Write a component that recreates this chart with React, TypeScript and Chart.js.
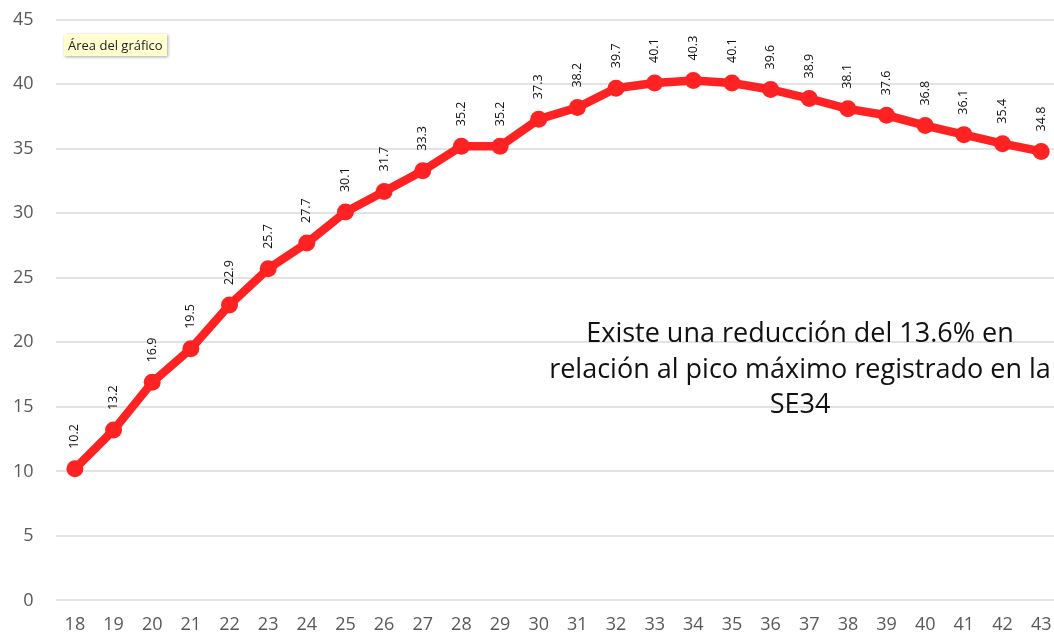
import React, { useEffect, useRef } from "react";
import { Chart, registerables } from "chart.js";

Chart.register(...registerables);

const weeks: string[] = ["18","19","20","21","22","23","24","25","26","27","28","29","30","31","32","33","34","35","36","37","38","39","40","41","42","43"];
const values: number[] = [10.2,13.2,16.9,19.5,22.9,25.7,27.7,30.1,31.7,33.3,35.2,35.2,37.3,38.2,39.7,40.1,40.3,40.1,39.6,38.9,38.1,37.6,36.8,36.1,35.4,34.8];
const annotationLines: string[] = ["Existe una reducción del 13.6% en", "relación al pico máximo registrado en la", "SE34"];
const tooltipText = "Área del gráfico";

const FONT = "'Open Sans', 'Noto Sans', sans-serif";

const dataLabelPlugin = {
  id: "vlabels",
  afterDatasetsDraw(chart: any) {
    const ctx = chart.ctx;
    const meta = chart.getDatasetMeta(0);
    ctx.save();
    ctx.fillStyle = "#111";
    ctx.font = `12.5px ${FONT}`;
    ctx.textAlign = "left";
    ctx.textBaseline = "middle";
    meta.data.forEach((pt: any, i: number) => {
      ctx.save();
      ctx.translate(pt.x, pt.y - 20);
      ctx.rotate(-Math.PI / 2);
      ctx.fillText(values[i].toFixed(1), 0, 0);
      ctx.restore();
    });
    ctx.restore();
  },
};

export default function App() {
  const ref = useRef<HTMLCanvasElement | null>(null);
  useEffect(() => {
    if (!ref.current) return;
    const chart = new Chart(ref.current, {
      type: "line",
      data: {
        labels: weeks,
        datasets: [
          {
            data: values,
            borderColor: "#ff2222",
            backgroundColor: "#ff2222",
            borderWidth: 8.5,
            pointRadius: 8.5,
            pointHoverRadius: 8.5,
            pointBackgroundColor: "#ff2222",
            pointBorderWidth: 0,
            tension: 0,
          },
        ],
      },
      options: {
        responsive: false,
        animation: false,
        layout: { padding: { left: 12, top: 8, right: 0, bottom: 0 } },
        plugins: { legend: { display: false }, tooltip: { enabled: false } },
        scales: {
          x: {
            offset: true,
            grid: { display: false, drawTicks: false },
            border: { display: false },
            ticks: { color: "#595959", font: { family: FONT, size: 18 }, padding: 14, maxRotation: 0, autoSkip: false },
          },
          y: {
            min: 0,
            max: 45,
            grid: { color: "#e3e3e3", lineWidth: 2, drawTicks: false },
            border: { display: false },
            ticks: { stepSize: 5, color: "#595959", font: { family: FONT, size: 18 }, padding: 22 },
          },
        },
      },
      plugins: [dataLabelPlugin],
    });
    return () => chart.destroy();
  }, []);

  return (
    <div style={{ position: "fixed", left: 0, top: 0, width: 1054, height: 635, overflow: "hidden", background: "#fff" }}>
      <canvas ref={ref} width={1090} height={663} style={{ position: "absolute", left: -21, top: -13 }} />
      <div
        style={{
          position: "absolute",
          left: 64,
          top: 34,
          padding: "2px 4px",
          background: "#ffffd0",
          boxShadow: "1px 1px 3px rgba(0,0,0,0.35)",
          font: `13px ${FONT}`,
          color: "#222",
          lineHeight: "18px",
          whiteSpace: "nowrap",
        }}
      >
        {tooltipText}
      </div>
      <div
        style={{
          position: "absolute",
          left: 500,
          width: 600,
          top: 314,
          textAlign: "center",
          font: `27px ${FONT}`,
          lineHeight: "35.5px",
          color: "#111",
        }}
      >
        {annotationLines.map((l, i) => (
          <div key={i}>{l}</div>
        ))}
      </div>
    </div>
  );
}
